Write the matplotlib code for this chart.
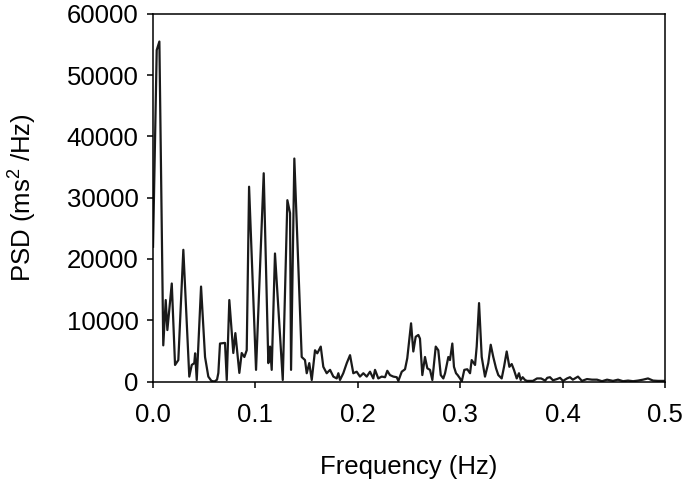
import matplotlib.pyplot as plt

plt.rcParams['font.family'] = ['Liberation Sans', 'DejaVu Sans']
plt.rcParams['mathtext.fontset'] = 'custom'
plt.rcParams['mathtext.rm'] = 'Liberation Sans'
plt.rcParams['mathtext.it'] = 'Liberation Sans'

# frequency (Hz) and PSD (ms^2/Hz)
freq = [0.000, 0.0036, 0.0062, 0.0100, 0.0124, 0.0140, 0.0183, 0.0215, 0.0247, 0.0296,
        0.0354, 0.0378, 0.0403, 0.0411, 0.0427, 0.0469, 0.0508, 0.0540, 0.0570, 0.0600,
        0.0625, 0.0638, 0.0654, 0.0703, 0.0720, 0.0745, 0.0784, 0.0804, 0.0823, 0.0843,
        0.0866, 0.0892, 0.0915, 0.0938, 0.1006, 0.1081, 0.1126, 0.1143, 0.1159, 0.1191,
        0.1267, 0.1312, 0.1338, 0.1348, 0.1380, 0.1452, 0.1484, 0.1501, 0.1526, 0.1550,
        0.1582, 0.1604, 0.1638, 0.1663, 0.1696, 0.1729, 0.1761, 0.1794, 0.1810, 0.1826,
        0.1858, 0.1892, 0.1924, 0.1956, 0.1989, 0.2021, 0.2054, 0.2087, 0.2119, 0.2151,
        0.2168, 0.2200, 0.2233, 0.2266, 0.2288, 0.2314, 0.2347, 0.2380, 0.2396, 0.2429,
        0.2461, 0.2483, 0.2520, 0.2542, 0.2565, 0.2591, 0.2607, 0.2630, 0.2656, 0.2679,
        0.2705, 0.2728, 0.2761, 0.2786, 0.2810, 0.2835, 0.2852, 0.2884, 0.2900, 0.2923,
        0.2939, 0.2959, 0.2975, 0.2998, 0.3015, 0.3040, 0.3069, 0.3096, 0.3112, 0.3145,
        0.3161, 0.3184, 0.3210, 0.3242, 0.3274, 0.3298, 0.3323, 0.3350, 0.3372, 0.3405,
        0.3428, 0.3454, 0.3480, 0.3503, 0.3525, 0.3552, 0.3574, 0.3591, 0.3610, 0.3633,
        0.3652, 0.3710, 0.3750, 0.3790, 0.3830, 0.3850, 0.3877, 0.3906, 0.3945, 0.3975,
        0.4004, 0.4043, 0.4072, 0.4100, 0.4150, 0.4189, 0.4238, 0.4287, 0.4336, 0.4385,
        0.4434, 0.4492, 0.4541, 0.4590, 0.4639, 0.4688, 0.4736, 0.4785, 0.4834, 0.4883,
        0.4932, 0.5000]
psd = [22000, 54100, 55500, 5900, 13300, 8400, 16000, 2700, 3500, 21500,
       800, 2700, 3000, 4600, 250, 15500, 4000, 800, 100, 0,
       300, 1400, 6200, 6300, 250, 13300, 4650, 7900, 4650, 1400,
       4650, 4000, 5100, 31800, 1900, 34000, 3000, 5700, 1900, 20900,
       250, 29600, 27500, 1900, 36400, 4000, 3500, 1350, 3000, 250,
       5100, 4600, 5700, 2400, 1350, 1900, 800, 500, 1350, 250,
       1350, 3000, 4300, 1350, 1600, 800, 1350, 800, 1600, 500,
       1900, 500, 800, 700, 1750, 1050, 800, 700, 100, 1600,
       2000, 3800, 9500, 4900, 7300, 7600, 7000, 1050, 4000, 2150,
       1900, 250, 5700, 5100, 1050, 500, 1350, 4000, 3500, 6200,
       2400, 1350, 1050, 500, 0, 1900, 2000, 1350, 3500, 2700,
       5700, 12800, 4000, 800, 3000, 6000, 4000, 2150, 1050, 500,
       2400, 4900, 2400, 2850, 1900, 500, 1350, 250, 700, 250,
       100, 100, 500, 500, 150, 600, 700, 200, 400, 600,
       100, 500, 700, 300, 800, 100, 400, 300, 300, 50,
       300, 100, 300, 50, 150, 50, 150, 300, 500, 150,
       100, 100]

xticks = [0.0, 0.1, 0.2, 0.3, 0.4, 0.5]
yticks = [0, 10000, 20000, 30000, 40000, 50000, 60000]

fig = plt.figure(figsize=(6.85, 4.82), dpi=100)
ax = fig.add_axes([0.2234, 0.2085, 0.7474, 0.7625])
ax.plot(freq, psd, color='#1a1a1a', linewidth=1.6)

ax.set_xlim(0, 0.5)
ax.set_ylim(0, 60000)
ax.set_xticks(xticks)
ax.set_xticklabels(['%.1f' % t for t in xticks])
ax.set_yticks(yticks)
ax.set_yticklabels([str(t) for t in yticks])
ax.tick_params(labelsize=18.5, length=4.5, width=1.1, direction='out',
               top=False, right=False)
ax.tick_params(axis='x', pad=11)
ax.tick_params(axis='y', pad=6)
for s in ax.spines.values():
    s.set_linewidth(1.1)

ax.set_xlabel('Frequency (Hz)', fontsize=18.5, labelpad=20)
ax.set_ylabel('PSD (ms$^2$ /Hz)', fontsize=18.5, labelpad=20)

fig.savefig('out.png', dpi=100)
